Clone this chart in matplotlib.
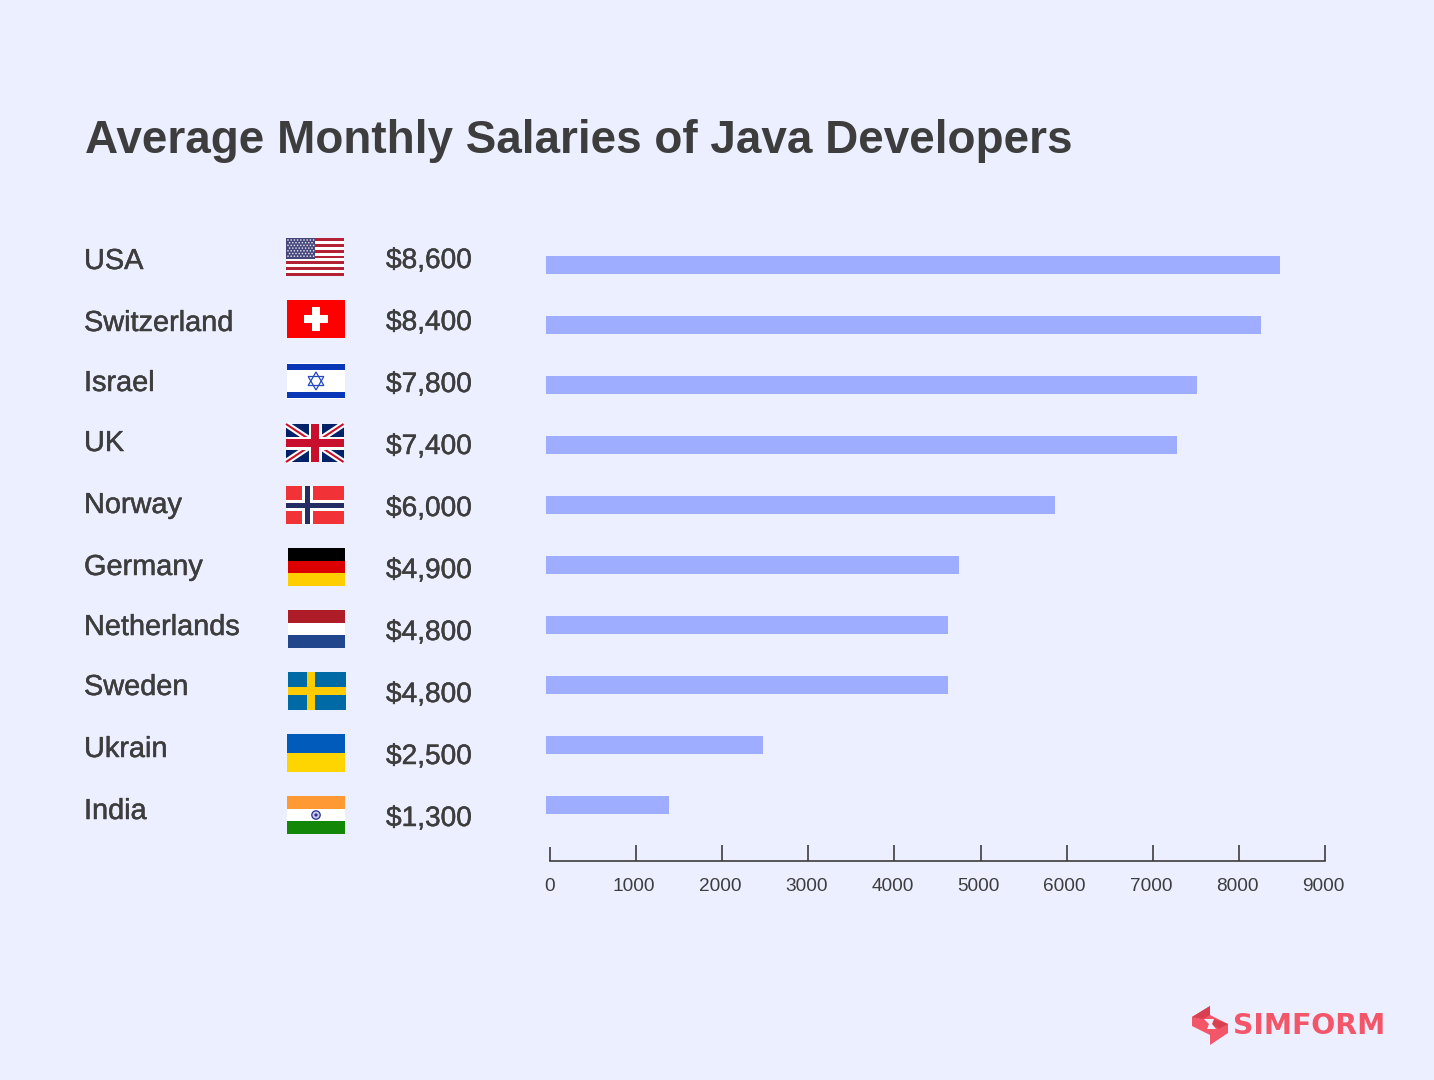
import numpy as np
import matplotlib
matplotlib.use('Agg')
import matplotlib.pyplot as plt
import matplotlib.patheffects as pe
from matplotlib.patches import Rectangle, Polygon, Circle
from matplotlib.transforms import ScaledTranslation

W, H = 1434, 1080
BG = '#ecefff'
DARK = '#3d3d3d'
BAR = '#9eadff'

countries = ['USA', 'Switzerland', 'Israel', 'UK', 'Norway', 'Germany',
             'Netherlands', 'Sweden', 'Ukrain', 'India']
salary_labels = ['$8,600', '$8,400', '$7,800', '$7,400', '$6,000', '$4,900',
                 '$4,800', '$4,800', '$2,500', '$1,300']
bar_values = [8500, 8285, 7535, 7305, 5895, 4780, 4655, 4655, 2515, 1425]
tick_values = [0, 1000, 2000, 3000, 4000, 5000, 6000, 7000, 8000, 9000]

# pixel positions of the text columns and the flags
name_y = [258, 320, 380, 440, 502, 564, 624, 684, 746, 808]
salary_y = [258, 320, 382, 444, 506, 568, 630, 692, 754, 816]
flag_x = [286, 287, 287, 286, 286, 288, 288, 288, 287, 287]
flag_y = [238, 300, 362, 424, 486, 548, 610, 672, 734, 796]
flag_w = 58
flag_h = 38

plt.rcParams['font.family'] = ['Liberation Sans', 'DejaVu Sans']


def px_axes(fig, left, top, width, height):
    return fig.add_axes([left / W, 1 - (top + height) / H, width / W, height / H])


def rect(ax, x, y, w, h, c, z=3):
    ax.add_patch(Rectangle((x, y), w, h, fc=c, ec='none', zorder=z))


def hstripes(ax, x, y, colors, w=flag_w, h=flag_h):
    for i, c in enumerate(colors):
        rect(ax, x, y + i * h / len(colors), w, h / len(colors), c)


def flag_usa(ax, x, y):
    hstripes(ax, x, y, ['#b22234', '#ffffff'] * 6 + ['#b22234'], w=57.5)
    rect(ax, x, y, 29, 20.5, '#46467a')
    for r in range(7):
        for k in range(8 if r % 2 else 9):
            ax.add_patch(Circle((x + 2 + k * 3.2 + (1.6 if r % 2 else 0), y + 2 + r * 2.7),
                                0.8, fc='#e6e7f2', ec='none', zorder=4))


def flag_swiss(ax, x, y):
    rect(ax, x, y, flag_w, flag_h, '#ff0000')
    rect(ax, x + 17, y + 15, 24, 7.5, 'white')
    rect(ax, x + 25, y + 7, 8, 24, 'white')


def flag_israel(ax, x, y):
    rect(ax, x, y + 1, flag_w, 36, 'white')
    rect(ax, x, y + 2, flag_w, 6, '#0a36b8')
    rect(ax, x, y + 30, flag_w, 6, '#0a36b8')
    cx, cy, r = x + 29, y + 19, 9
    for s in (1, -1):
        ax.add_patch(Polygon([(cx, cy - s * r), (cx - r * 0.87, cy + s * r / 2),
                              (cx + r * 0.87, cy + s * r / 2)],
                             fc='none', ec='#2348c0', lw=0.9, zorder=4))


def flag_uk(ax, x, y):
    navy, red = '#012169', '#c8102e'
    rect(ax, x, y, 57.5, flag_h, navy, z=1)
    x1, y1 = x + 57.5, y + flag_h
    for (xs, ys) in [([x, x1], [y, y1]), ([x, x1], [y1, y])]:
        ax.plot(xs, ys, color='white', lw=4.5, solid_capstyle='butt', zorder=2)
        ax.plot(xs, ys, color=red, lw=1.5, solid_capstyle='butt', zorder=2)
    rect(ax, x, y + 12.5, 57.5, 13, 'white')
    rect(ax, x + 22.5, y, 13, flag_h, 'white')
    rect(ax, x, y + 15, 57.5, 8, red, z=4)
    rect(ax, x + 25, y, 8, flag_h, red, z=4)


def flag_norway(ax, x, y):
    rect(ax, x, y, flag_w, flag_h, '#f13236')
    rect(ax, x + 16, y, 11, flag_h, 'white')
    rect(ax, x, y + 14, flag_w, 11, 'white')
    rect(ax, x + 19, y, 5, flag_h, '#232c63', z=4)
    rect(ax, x, y + 17, flag_w, 5, '#232c63', z=4)


def flag_sweden(ax, x, y):
    rect(ax, x, y, flag_w, flag_h, '#006aa7')
    rect(ax, x + 19, y, 8, flag_h, '#fecc00', z=4)
    rect(ax, x, y + 15, flag_w, 8, '#fecc00', z=4)


def flag_india(ax, x, y):
    hstripes(ax, x, y, ['#ff9933', '#ffffff', '#138808'])
    ax.add_patch(Circle((x + 29, y + 19), 4.2, fc='#c9cbea', ec='#2b2f8f', lw=0.9, zorder=4))
    ax.add_patch(Circle((x + 29, y + 19), 1.6, fc='#2b2f8f', ec='none', zorder=5))


fig = plt.figure(figsize=(W / 100, H / 100), dpi=100, facecolor=BG)

# overlay in pixel coordinates for text, flags and the logo
bg = fig.add_axes([0, 0, 1, 1])
bg.set_xlim(0, W)
bg.set_ylim(H, 0)
bg.axis('off')

bg.text(85, 141, 'Average Monthly Salaries of Java Developers', fontsize=33.07,
        fontweight='bold', color=DARK, va='center', ha='left')

heavier = [pe.withStroke(linewidth=0.35, foreground=DARK)]
for name, label, ny, sy in zip(countries, salary_labels, name_y, salary_y):
    bg.text(84, ny + 3, name, fontsize=20.8, color=DARK, va='center', ha='left',
            path_effects=heavier)
    bg.text(386, sy + 3, label, fontsize=20.2, color=DARK, va='center', ha='left',
            path_effects=heavier)

flag_usa(bg, flag_x[0], flag_y[0])
flag_swiss(bg, flag_x[1], flag_y[1])
flag_israel(bg, flag_x[2], flag_y[2])
flag_uk(bg, flag_x[3], flag_y[3])
flag_norway(bg, flag_x[4], flag_y[4])
hstripes(bg, flag_x[5], flag_y[5], ['#000000', '#dd0000', '#ffce00'], w=57)
hstripes(bg, flag_x[6], flag_y[6], ['#ae1c28', '#ffffff', '#21468b'], w=57)
flag_sweden(bg, flag_x[7], flag_y[7])
hstripes(bg, flag_x[8], flag_y[8], ['#005bbb', '#ffd500'])
flag_india(bg, flag_x[9], flag_y[9])

# bars, they start a little left of the axis below
ax = px_axes(fig, 546, 235, 86.35 * 9, 600)
ax.patch.set_alpha(0)
y = np.arange(len(bar_values))
ax.barh(y, bar_values, height=0.3, color=BAR)
ax.set_xlim(0, 9000)
ax.set_ylim(9.5, -0.5)
ax.axis('off')

# value axis
ax2 = px_axes(fig, 550, 800, 775, 61)
ax2.patch.set_alpha(0)
ax2.set_xlim(0, 9000)
ax2.set_xticks(tick_values)
ax2.set_yticks([])
for s in ['top', 'left', 'right']:
    ax2.spines[s].set_visible(False)
ax2.spines['bottom'].set_color(DARK)
ax2.spines['bottom'].set_linewidth(1.2)
ax2.tick_params(axis='x', direction='in', length=11.5, width=1.2, color=DARK,
                labelcolor=DARK, labelsize=13.7, pad=12.5)
ax2.xaxis.get_major_ticks()[0].tick1line.set_markersize(10)
shift = ScaledTranslation(-2 / 100, 0, fig.dpi_scale_trans)
for t in ax2.get_xticklabels()[1:]:
    t.set_transform(t.get_transform() + shift)

# logo
LOGO = '#f25668'
LOGO_DARK = '#d8404f'
bg.add_patch(Polygon([(1192, 1017), (1210, 1006), (1210, 1015), (1228, 1024),
                      (1228, 1033), (1210, 1045), (1210, 1035), (1192, 1026)],
                     fc=LOGO, ec='none'))
bg.add_patch(Polygon([(1192, 1017), (1210, 1006), (1210, 1015), (1203, 1019)],
                     fc=LOGO_DARK, ec='none'))
bg.add_patch(Polygon([(1214, 1019), (1228, 1024), (1219, 1029), (1212, 1024)],
                     fc=LOGO_DARK, ec='none'))
bg.add_patch(Polygon([(1204, 1019), (1214, 1019), (1212, 1024), (1216, 1029),
                      (1207, 1029), (1209, 1024)], fc=BG, ec='none'))
bg.text(1233, 1026.5, 'SIMFORM', fontsize=20.3, fontweight='bold', color=LOGO,
        family=['DejaVu Sans'], va='center', ha='left')

fig.savefig('out.png', dpi=100, facecolor=BG)
